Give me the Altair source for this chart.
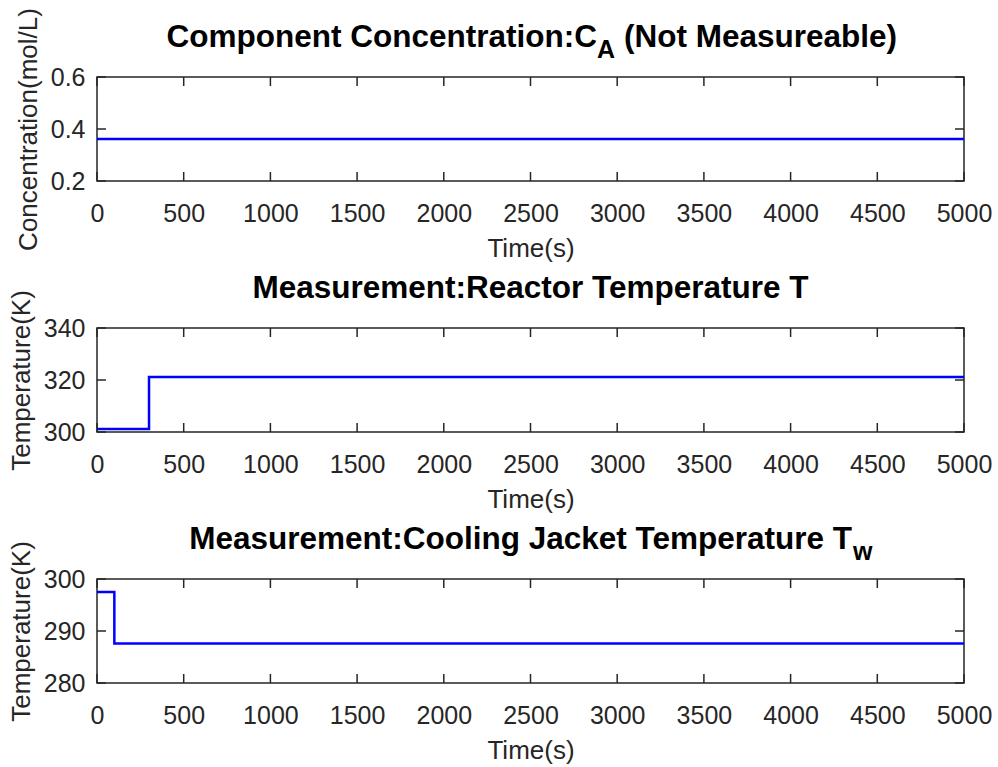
import altair as alt
import pandas as pd

# ---------------- data ----------------
t_ca = [0, 5000]
ca = [0.362, 0.362]

t_T = [0, 300, 300, 5000]
T = [301.2, 301.2, 321.2, 321.2]

t_Tw = [0, 100, 100, 5000]
Tw = [297.5, 297.5, 287.6, 287.6]

x_ticks = [0, 500, 1000, 1500, 2000, 2500, 3000, 3500, 4000, 4500, 5000]
ca_ticks = [0.2, 0.4, 0.6]
T_ticks = [300, 320, 340]
Tw_ticks = [280, 290, 300]

title1 = ["Component Concentration:C", "A", "(Not Measureable)"]
title2 = ["Measurement:Reactor Temperature T"]
title3 = ["Measurement:Cooling Jacket Temperature T", "w"]

W = 867
H = 104
TICK = 9
AX = "#262626"
FONT = "Liberation Sans"
TFS = 31.5
SFS = 25


def panel(t, v, ydom, yticks, yfmt, ytitle, title_marks):
    df = pd.DataFrame({"t": t, "v": v, "i": list(range(len(t)))})
    xs = alt.Scale(domain=[0, 5000], nice=False, zero=False)
    ys = alt.Scale(domain=ydom, nice=False, zero=False)
    xaxis = alt.Axis(values=x_ticks, title="Time(s)", format="d")
    yaxis = alt.Axis(values=yticks, title=ytitle, format=yfmt)
    X = alt.X("t:Q", scale=xs, axis=xaxis)
    Y = alt.Y("v:Q", scale=ys, axis=yaxis)

    line = alt.Chart(df).mark_line(color="#0000ff", strokeWidth=2.5).encode(
        x=X, y=Y, order="i:Q"
    )
    xt = pd.DataFrame({"t": x_ticks})
    yt = pd.DataFrame({"v": yticks})
    tb = alt.Chart(xt).mark_rule(color=AX, strokeWidth=1.5).encode(
        x=X, y=alt.value(H), y2=alt.value(H - TICK))
    tt = alt.Chart(xt).mark_rule(color=AX, strokeWidth=1.5).encode(
        x=X, y=alt.value(0), y2=alt.value(TICK))
    tl = alt.Chart(yt).mark_rule(color=AX, strokeWidth=1.5).encode(
        y=Y, x=alt.value(0), x2=alt.value(TICK))
    tr = alt.Chart(yt).mark_rule(color=AX, strokeWidth=1.5).encode(
        y=Y, x=alt.value(W), x2=alt.value(W - TICK))

    layers = [line, tb, tt, tl, tr]
    for text, xpos, ypos, align, size in title_marks:
        tdf = pd.DataFrame({"s": [text]})
        layers.append(
            alt.Chart(tdf).mark_text(
                font=FONT, fontWeight="bold", fontSize=size, color="black",
                align=align, baseline="alphabetic"
            ).encode(x=alt.value(xpos), y=alt.value(ypos), text="s:N")
        )
    return alt.layer(*layers).properties(width=W, height=H)


p1 = panel(t_ca, ca, [0.2, 0.6], ca_ticks, ".1f", "Concentration(mol/L)", [
    (title1[0], 500, -30, "right", TFS),
    (title1[1], 500, -19, "left", SFS),
    (title1[2], 527, -30, "left", TFS),
])
p2 = panel(t_T, T, [300, 340], T_ticks, "d", "Temperature(K)", [
    (title2[0], W / 2, -30, "center", TFS),
])
p3 = panel(t_Tw, Tw, [280, 300], Tw_ticks, "d", "Temperature(K)", [
    (title3[0], 755, -30, "right", TFS),
    (title3[1], 756, -19, "left", SFS),
])

chart = alt.vconcat(p1, p2, p3, spacing=147, bounds="flush").properties(
    autosize=alt.AutoSizeParams(type="none"),
    padding={"left": 97, "top": 77, "right": 998 - 97 - W, "bottom": 767 - 77},
    background="white",
).configure_view(
    stroke=AX, strokeWidth=1.5
).configure_axis(
    grid=False, domain=False, ticks=False,
    labelFont=FONT, labelFontSize=25, labelColor=AX,
    labelFlush=False, labelOverlap=False, labelBound=False,
    titleFont=FONT, titleFontSize=26, titleColor=AX, titleFontWeight="normal",
).configure_axisX(
    labelPadding=20, titlePadding=9
).configure_axisY(
    labelPadding=12, titlePadding=9
)

chart.save("out.html", embed_options={"renderer": "svg", "actions": False})
